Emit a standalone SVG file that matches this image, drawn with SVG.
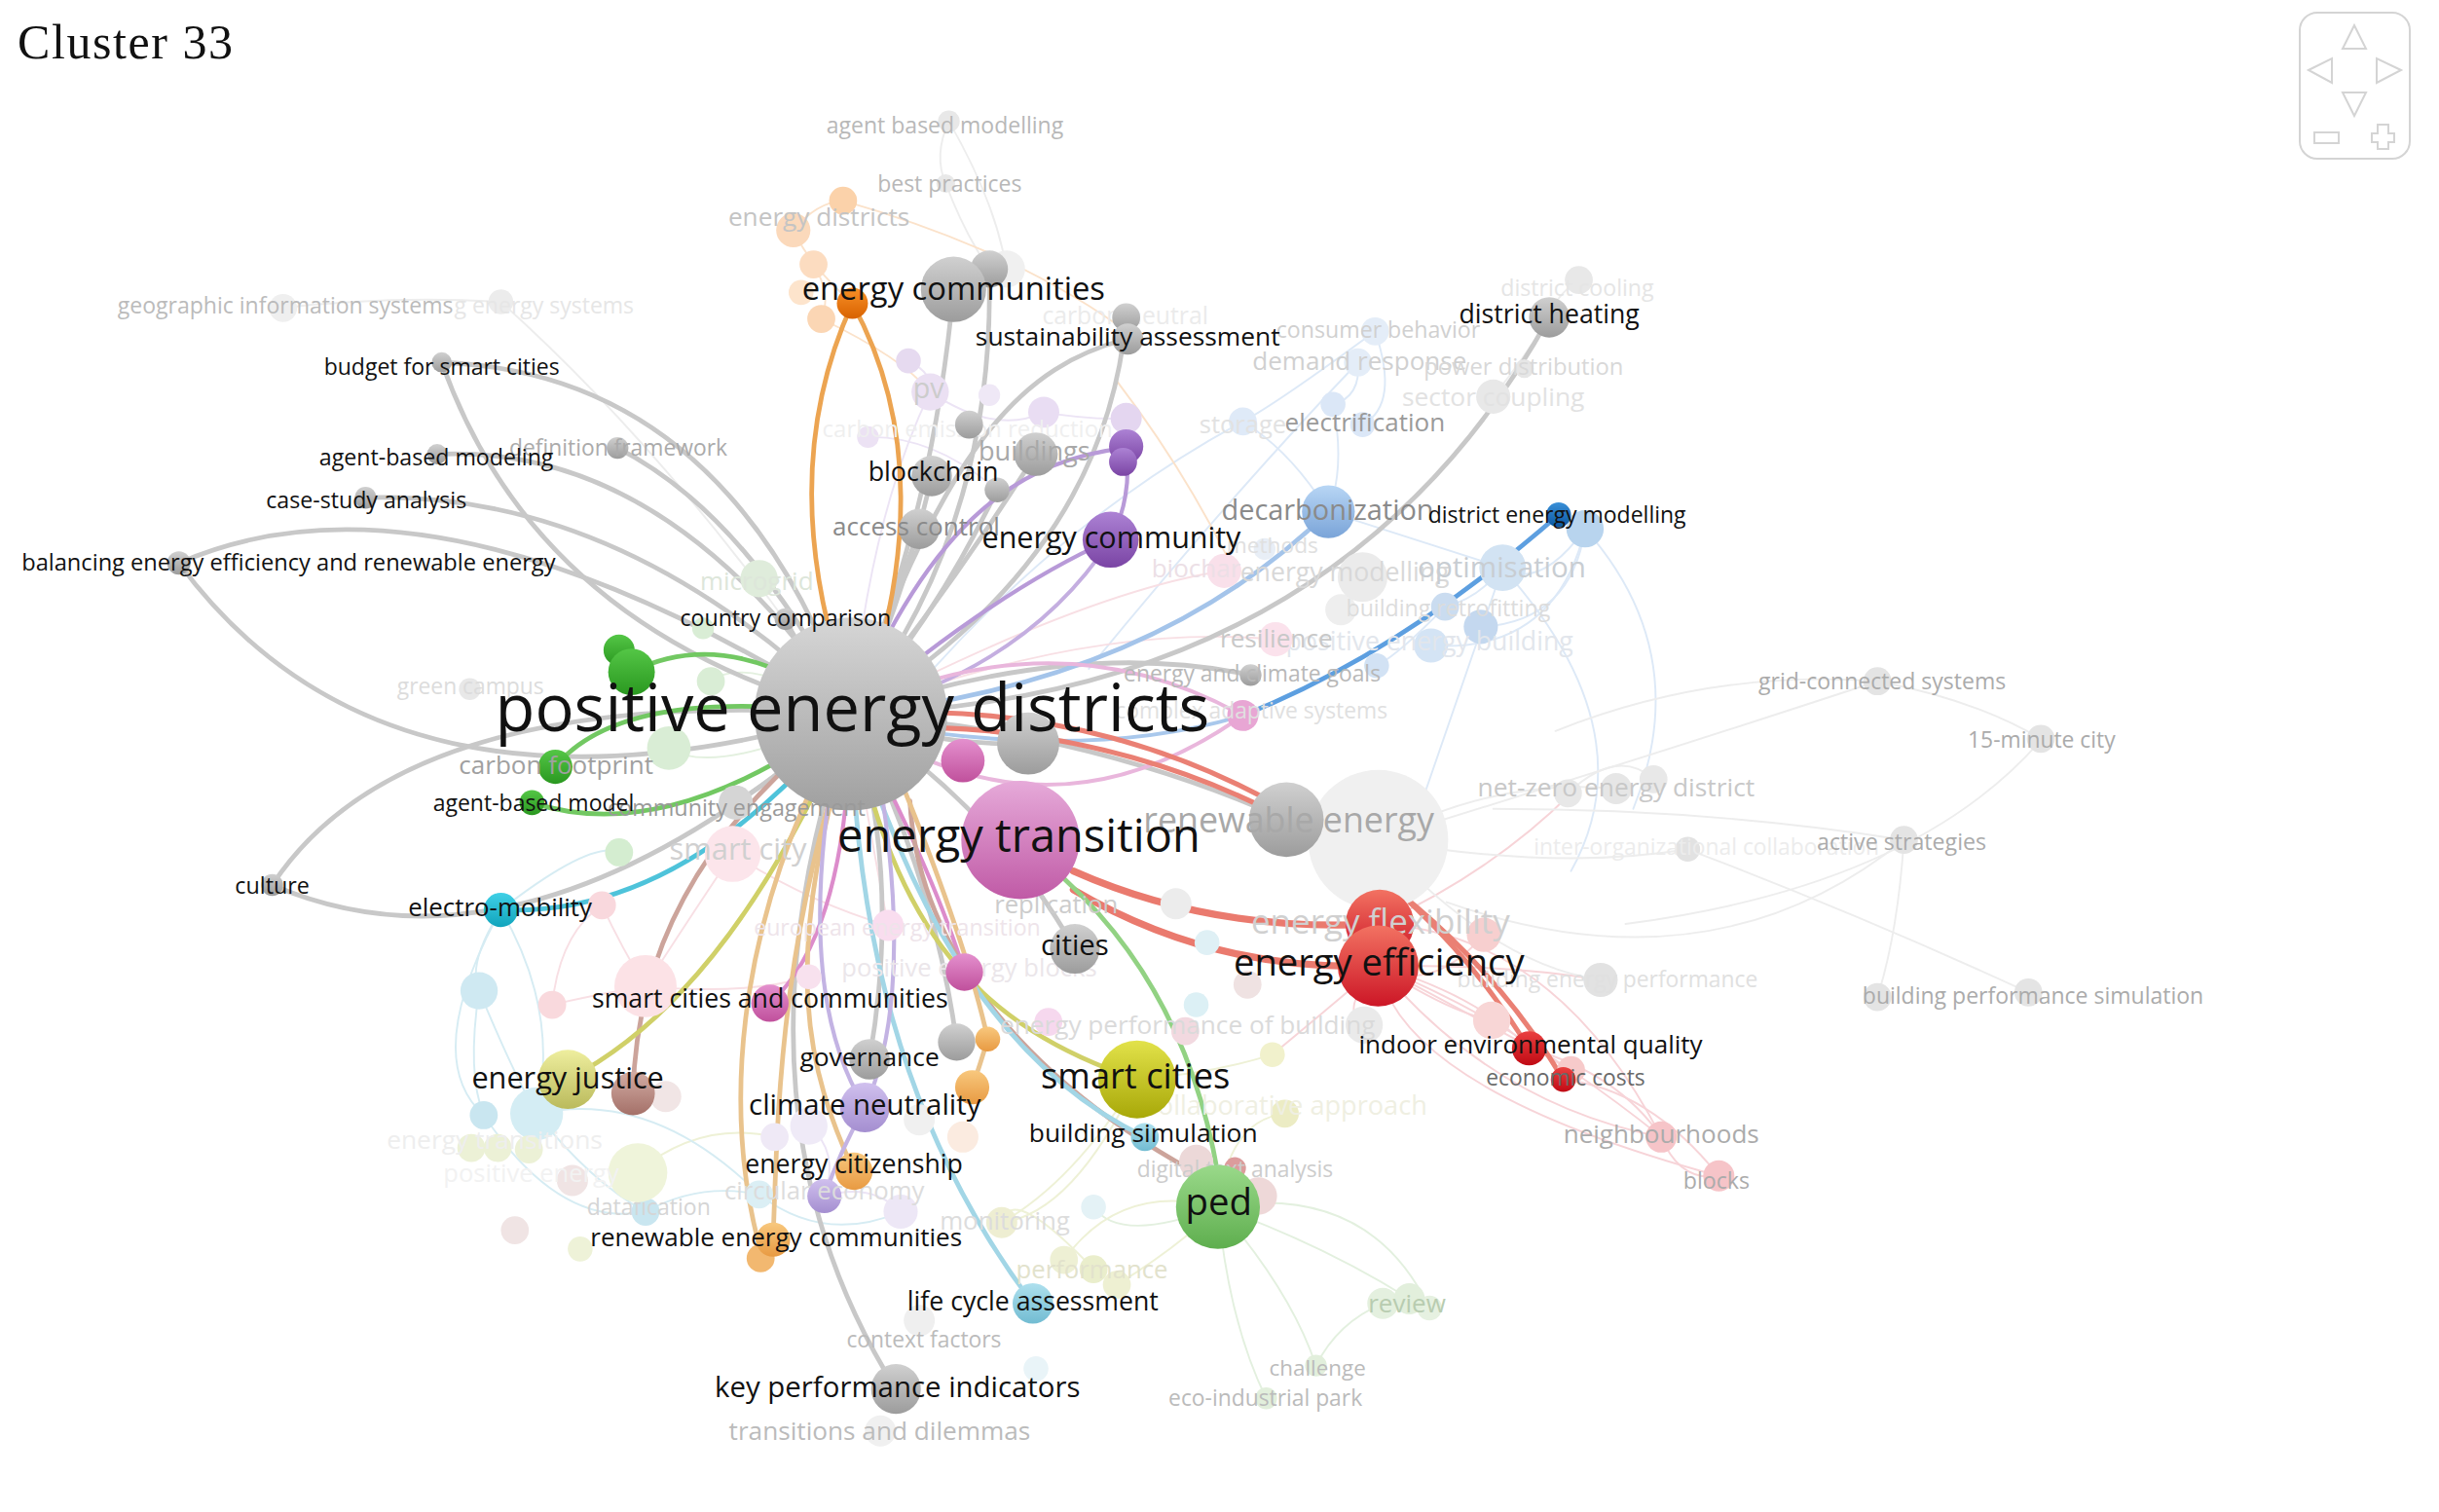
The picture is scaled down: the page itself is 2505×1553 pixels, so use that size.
<svg xmlns="http://www.w3.org/2000/svg" width="2505" height="1553" viewBox="0 0 2505 1553">
<style>
text{font-family:"Open Sans","Liberation Sans",sans-serif}
.c{text-anchor:middle}
.st{text-anchor:start}
.en{text-anchor:end}
.k{fill:#111}
.e path{fill:none;stroke-linecap:round}
.g{stroke:#c8c8c8;stroke-width:3}
</style>
<defs>
<linearGradient id="gHub" x1="0" y1="0" x2="0" y2="1"><stop offset="0" stop-color="#d6d6d6"/><stop offset="1" stop-color="#a0a0a0"/></linearGradient>
<linearGradient id="gGrey" x1="0" y1="0" x2="0" y2="1"><stop offset="0" stop-color="#d0d0d0"/><stop offset="1" stop-color="#9c9c9c"/></linearGradient>
<linearGradient id="gPink" x1="0" y1="0" x2="0" y2="1"><stop offset="0" stop-color="#e6aad9"/><stop offset="1" stop-color="#c05aa6"/></linearGradient>
<linearGradient id="gMag" x1="0" y1="0" x2="0" y2="1"><stop offset="0" stop-color="#e490ce"/><stop offset="1" stop-color="#c0509c"/></linearGradient>
<linearGradient id="gRed" x1="0" y1="0" x2="0" y2="1"><stop offset="0" stop-color="#f27262"/><stop offset="1" stop-color="#cc1626"/></linearGradient>
<linearGradient id="gRed2" x1="0" y1="0" x2="0" y2="1"><stop offset="0" stop-color="#ea4040"/><stop offset="1" stop-color="#c00a14"/></linearGradient>
<linearGradient id="gOlive" x1="0" y1="0" x2="0" y2="1"><stop offset="0" stop-color="#e2e24a"/><stop offset="1" stop-color="#a8a808"/></linearGradient>
<linearGradient id="gGreen" x1="0" y1="0" x2="0" y2="1"><stop offset="0" stop-color="#9ad98a"/><stop offset="1" stop-color="#5eae4e"/></linearGradient>
<linearGradient id="gGreenD" x1="0" y1="0" x2="0" y2="1"><stop offset="0" stop-color="#54c646"/><stop offset="1" stop-color="#2a9820"/></linearGradient>
<linearGradient id="gBlueL" x1="0" y1="0" x2="0" y2="1"><stop offset="0" stop-color="#b8d6f5"/><stop offset="1" stop-color="#7aa4d8"/></linearGradient>
<linearGradient id="gBlueD" x1="0" y1="0" x2="0" y2="1"><stop offset="0" stop-color="#3a90d8"/><stop offset="1" stop-color="#0a56a0"/></linearGradient>
<linearGradient id="gPurple" x1="0" y1="0" x2="0" y2="1"><stop offset="0" stop-color="#ac82d4"/><stop offset="1" stop-color="#7a44a4"/></linearGradient>
<linearGradient id="gOrange" x1="0" y1="0" x2="0" y2="1"><stop offset="0" stop-color="#f89028"/><stop offset="1" stop-color="#d86200"/></linearGradient>
<linearGradient id="gOrangeL" x1="0" y1="0" x2="0" y2="1"><stop offset="0" stop-color="#f8c87e"/><stop offset="1" stop-color="#e89a42"/></linearGradient>
<linearGradient id="gCyan" x1="0" y1="0" x2="0" y2="1"><stop offset="0" stop-color="#40d0e6"/><stop offset="1" stop-color="#10a4bc"/></linearGradient>
<linearGradient id="gLBlue" x1="0" y1="0" x2="0" y2="1"><stop offset="0" stop-color="#aee0ee"/><stop offset="1" stop-color="#72bcd2"/></linearGradient>
<linearGradient id="gYellow" x1="0" y1="0" x2="0" y2="1"><stop offset="0" stop-color="#eeee9e"/><stop offset="1" stop-color="#baba5c"/></linearGradient>
<linearGradient id="gBrown" x1="0" y1="0" x2="0" y2="1"><stop offset="0" stop-color="#d2aca4"/><stop offset="1" stop-color="#a47068"/></linearGradient>
<linearGradient id="gLav" x1="0" y1="0" x2="0" y2="1"><stop offset="0" stop-color="#d0c0ee"/><stop offset="1" stop-color="#a48ed0"/></linearGradient>
</defs>
<rect width="2505" height="1553" fill="#ffffff"/>
<text x="18" y="60" style="font-family:'Liberation Serif','DejaVu Serif',serif" font-size="50" textLength="221" fill="#111">Cluster 33</text>
<g id="nav-control" fill="none" stroke="#d4d4d4" stroke-width="2">
<rect x="2362" y="13" width="113" height="150" rx="18"/>
<polygon points="2418,26 2406,50 2430,50"/>
<polygon points="2371,72 2395,60 2395,85"/>
<polygon points="2466,72 2441,60 2441,85"/>
<polygon points="2406,95 2430,95 2418,119"/>
<rect x="2377" y="136" width="25" height="11"/>
<path d="M2442,128 H2453 V137 H2459 V146 H2453 V153 H2442 V146 H2436 V137 H2442 Z"/>
</g>
<g transform="scale(1.59758)">
<g id="connectors" class="e">
<g stroke-width="1.2">
<g stroke="#dde9f7">
<path d="M1019,340 Q990,380 966,365"/><path d="M966,365 Q950,385 929,390"/><path d="M1019,340 Q1000,420 920,415"/><path d="M854,329 Q920,350 966,365"/><path d="M873,233 Q875,255 857,260"/><path d="M884,213 Q900,260 876,273"/><path d="M799,271 Q830,290 854,329"/><path d="M857,260 Q865,300 854,329"/><path d="M1019,340 Q1010,400 952,403"/><path d="M966,365 Q1060,470 1010,560"/><path d="M873,233 Q790,320 700,430"/><path d="M799,271 Q690,330 600,430"/><path d="M929,390 Q900,420 885,428"/><path d="M1019,340 Q1090,420 1050,520"/><path d="M884,213 Q820,260 799,271"/><path d="M966,365 Q930,470 887,594"/>
</g>
<g stroke="#f7d4d8">
<path d="M886,621 Q950,640 983,674"/><path d="M886,621 Q980,660 1068,731"/><path d="M983,674 Q1040,690 1068,731"/><path d="M1068,731 Q1080,760 1105,756"/><path d="M1005,694 Q1060,700 1105,756"/><path d="M886,621 Q960,710 1068,731"/><path d="M887,594 Q960,560 1010,510"/><path d="M954,601 Q920,640 886,621"/><path d="M886,621 Q930,650 959,656"/><path d="M886,621 Q960,660 1010,688"/><path d="M886,621 Q970,620 1029,630"/><path d="M886,621 Q860,650 877,659"/><path d="M886,621 Q840,660 818,678"/><path d="M887,594 Q1000,600 1068,731"/><path d="M886,621 Q900,700 1105,756"/>
</g>
<g stroke="#ededed">
<path d="M1000,470 Q1100,430 1207,438"/><path d="M1207,438 Q1270,450 1312,475"/><path d="M1312,476 Q1230,570 1045,594"/><path d="M960,520 Q1100,520 1224,540"/><path d="M1085,546 Q1200,590 1304,638"/><path d="M1224,540 Q1220,600 1207,641"/><path d="M886,540 Q960,500 1039,507"/><path d="M886,540 Q1000,560 1085,546"/><path d="M886,540 Q960,620 1029,630"/><path d="M930,580 Q1100,640 1224,540"/><path d="M1008,510 Q1040,480 1063,501"/><path d="M886,540 Q1080,480 1207,438"/><path d="M610,78 Q600,100 608,118"/><path d="M608,118 Q620,150 636,173"/><path d="M610,78 Q640,130 647,173"/><path d="M182,198 Q250,190 322,194"/><path d="M322,194 Q440,300 547,459"/><path d="M1015,180 Q1000,190 996,204"/><path d="M960,255 Q980,230 996,204"/>
</g>
<g stroke="#e3f0df">
<path d="M783,776 Q850,800 906,835"/><path d="M783,776 Q830,830 846,878"/><path d="M783,776 Q790,850 814,899"/><path d="M846,878 Q860,850 889,838"/><path d="M783,776 Q880,760 919,841"/><path d="M783,776 Q720,800 703,776"/><path d="M547,459 Q480,420 457,438"/><path d="M547,459 Q500,370 488,372"/><path d="M547,459 Q460,500 430,481"/>
</g>
<g stroke="#eef1d6">
<path d="M644,786 Q690,780 731,694"/><path d="M684,810 Q720,760 783,776"/><path d="M718,826 Q760,800 783,776"/><path d="M818,678 Q780,690 731,694"/><path d="M826,716 Q790,720 783,776"/><path d="M409,754 Q450,720 498,731"/><path d="M731,694 Q690,760 644,786"/><path d="M703,816 Q650,760 644,786"/>
</g>
<g stroke="#d6ecf3">
<path d="M322,585 Q300,620 308,637"/><path d="M308,637 Q300,690 311,717"/><path d="M308,637 Q330,690 345,716"/><path d="M345,716 Q380,760 415,779"/><path d="M415,779 Q450,760 488,768"/><path d="M322,585 Q360,650 345,716"/><path d="M311,717 Q360,790 415,779"/><path d="M488,768 Q530,800 579,779"/><path d="M322,585 Q270,680 311,717"/><path d="M345,716 Q420,700 488,768"/><path d="M322,585 Q380,540 398,548"/>
</g>
<g stroke="#f8dfe4">
<path d="M355,646 Q380,640 415,634"/><path d="M387,582 Q400,610 415,634"/><path d="M415,634 Q450,580 471,549"/><path d="M471,549 Q520,580 571,595"/><path d="M355,646 Q360,600 387,582"/><path d="M415,634 Q480,640 520,628"/><path d="M547,459 Q520,560 520,628"/><path d="M547,459 Q560,540 571,595"/><path d="M547,459 Q700,380 787,367"/><path d="M547,459 Q700,400 820,411"/>
</g>
<g stroke="#fbe2ca">
<path d="M548,195 Q520,170 510,148"/><path d="M510,148 Q525,130 542,129"/><path d="M523,170 Q535,190 528,205"/><path d="M542,129 Q650,160 720,210"/><path d="M718,245 Q760,300 790,360"/><path d="M528,205 Q580,230 598,252"/>
</g>
<g stroke="#ece4f5">
<path d="M598,252 Q640,280 671,265"/><path d="M584,232 Q600,240 598,252"/><path d="M558,281 Q600,280 641,315"/><path d="M671,265 Q700,270 724,269"/><path d="M598,252 Q560,330 547,459"/><path d="M724,269 Q730,280 724,287"/><path d="M579,779 Q560,760 530,769"/><path d="M520,724 Q540,740 530,769"/>
</g>
</g>
<g class="g">
<path d="M284,233 Q345,405 547,459"/><path d="M284,233 Q470,240 547,459"/><path d="M281,292 Q430,285 547,459"/><path d="M235,320 Q400,315 547,459"/><path d="M115,362 Q280,290 547,459"/><path d="M115,362 Q250,545 547,459"/><path d="M175,569 Q260,440 547,459"/><path d="M175,569 Q340,640 547,459"/><path d="M397,288 Q480,330 547,459"/><path d="M613,186 Q600,330 547,459"/><path d="M636,173 Q640,340 547,459"/><path d="M724,218 C660,235 610,280 547,459"/><path d="M724,204 Q710,360 547,459"/><path d="M996,204 Q860,450 547,459"/><path d="M599,306 Q580,390 547,459"/><path d="M591,340 Q570,400 547,459"/><path d="M666,292 Q610,380 547,459"/><path d="M641,315 Q600,400 547,459"/><path d="M661,478 Q600,480 547,459"/><path d="M804,434 Q690,410 547,459"/><path d="M827,527 Q700,470 547,459"/><path d="M691,610 Q640,520 547,459"/><path d="M559,681 Q580,560 547,459"/><path d="M615,670 Q600,560 547,459"/><path d="M576,893 C505,780 485,640 547,459"/><path d="M505,398 Q520,430 547,459"/><path d="M473,516 Q500,500 547,459"/>
</g>
<g stroke-width="3">
<path stroke="#eca451" d="M548,195 Q500,300 540,430"/><path stroke="#eca451" d="M548,195 Q600,290 565,420"/>
<path stroke="#72c862" d="M406,432 Q470,400 547,459"/><path stroke="#72c862" d="M357,493 Q400,440 547,459"/><path stroke="#72c862" d="M342,516 Q430,545 547,459"/>
<path stroke="#4ec3da" d="M322,585 Q440,590 547,459"/>
<path stroke="#b89ad8" stroke-width="2.6" d="M724,288 C660,295 600,330 547,459"/><path stroke="#b89ad8" stroke-width="2.6" d="M714,347 Q640,380 547,459"/><path stroke="#c4aee0" stroke-width="2.4" d="M714,347 Q660,430 547,459"/><path stroke="#b89ad8" stroke-width="2.6" d="M714,347 Q728,320 724,288"/>
<path stroke="#a4c4ea" d="M854,329 Q740,440 547,459"/>
<path stroke="#5d9fe0" d="M1002,331 Q900,420 799,460"/><path stroke="#a9c8ec" stroke-width="2.5" d="M799,460 Q700,490 560,465"/>
<path stroke="#e9b6dc" stroke-width="2.5" d="M590,440 Q700,405 799,460"/><path stroke="#e9b6dc" stroke-width="2.5" d="M600,490 Q700,530 799,460"/>
<path stroke="#dc8ccb" stroke-width="2.6" d="M547,459 Q545,600 495,645"/><path stroke="#dc8ccb" stroke-width="2.6" d="M547,459 Q600,560 620,625"/>
<path stroke="#ea8074" stroke-width="3.2" d="M600,458 C760,462 900,540 983,674"/><path stroke="#ea8074" stroke-width="3.2" d="M605,468 C775,474 925,560 1005,694"/><path stroke="#ea7a6e" stroke-width="4.5" d="M690,560 Q780,600 887,594"/><path stroke="#ea7a6e" stroke-width="4.5" d="M690,572 Q780,625 886,621"/>
<path stroke="#92d283" d="M660,545 Q760,620 783,755"/>
<path stroke="#cca49b" d="M585,515 C590,610 660,700 790,765"/><path stroke="#cca49b" d="M407,703 Q410,560 547,459"/>
<path stroke="#d0d068" d="M365,694 Q470,640 547,459"/><path stroke="#d0d068" d="M547,459 C575,600 630,660 731,694"/>
<path stroke="#a2d6e6" d="M547,459 C550,620 590,740 664,838"/><path stroke="#a2d6e6" d="M547,459 C590,600 650,690 736,731"/>
<path stroke="#e9c38d" d="M540,470 C470,600 465,720 490,808"/><path stroke="#e9c38d" d="M547,470 C500,610 500,720 497,797"/><path stroke="#e9c38d" d="M547,470 C500,620 520,690 549,753"/><path stroke="#e9c38d" d="M570,480 Q620,600 635,668"/><path stroke="#e9c38d" d="M635,668 Q630,685 625,699"/>
<path stroke="#c3b3e3" stroke-width="2.6" d="M540,470 C515,600 530,670 556,712"/><path stroke="#c3b3e3" stroke-width="2.6" d="M560,470 C585,600 575,670 556,712"/><path stroke="#c3b3e3" stroke-width="2.6" d="M556,712 Q540,740 530,769"/>
</g>
</g>
<g id="nodes">
<g id="n-renewable-energy-halo"><circle cx="886" cy="540" r="45" fill="#f0f0f0"/></g>
<g id="n-agent-based-modelling"><circle cx="610" cy="78" r="7" fill="#e8e8e8"/><text class="c" x="607.5" y="86" font-size="14.4" fill="#b8b8b8">agent based modelling</text></g>
<g id="n-best-practices"><circle cx="608" cy="118" r="6" fill="#e8e8e8"/><text class="c" x="610.5" y="123" font-size="14.4" fill="#b8b8b8">best practices</text></g>
<g id="n-ed-1"><circle cx="542" cy="129" r="9" fill="#fbd2aa"/></g>
<g id="n-ed-2"><circle cx="523" cy="170" r="9" fill="#fcdcc0"/></g>
<g id="n-ed-3"><circle cx="528" cy="205" r="9" fill="#fbd6b4"/></g>
<g id="n-ed-4"><circle cx="515" cy="188" r="8" fill="#fde4cc"/></g>
<g id="n-energy-districts"><circle cx="510" cy="148" r="11" fill="#fbd9bb"/><text class="c" x="526.5" y="145" font-size="16.4" fill="#c4c4c4">energy districts</text></g>
<g id="n-geographic-information-systems"><circle cx="182" cy="198" r="9" fill="#efefef"/><text class="c" x="183.5" y="201.5" font-size="14.4" fill="#bbbbbb">geographic information systems</text></g>
<g id="n-energy-systems"><circle cx="322" cy="194" r="8" fill="#ececec"/><text class="st" x="292" y="201.5" font-size="14.4" fill="#e6e6e6">g energy systems</text></g>
<g id="n-pv-1"><circle cx="584" cy="232" r="8" fill="#e6daf0"/></g>
<g id="n-pv-2"><circle cx="636" cy="254" r="7" fill="#efe8f6"/></g>
<g id="n-pv-3"><circle cx="671" cy="265" r="10" fill="#e9ddf3"/></g>
<g id="n-pv-4"><circle cx="724" cy="269" r="10" fill="#e4d6f0"/></g>
<g id="n-pv"><circle cx="598" cy="252" r="12" fill="#ebe0f3"/><text class="c" x="597" y="256" font-size="18" fill="#cccccc">pv</text></g>
<g id="n-carbon-emission-reduction"><circle cx="558" cy="281" r="7" fill="#ece2f4"/><text class="c" x="622" y="281" font-size="15" fill="#efefef">carbon emission reduction</text></g>
<g id="n-carbon-neutral"><circle cx="647" cy="173" r="12" fill="#f0f0f0"/><text class="st" x="670" y="208.5" font-size="15.5" fill="#ebebeb">carbon neutral</text></g>
<g id="n-storage"><circle cx="799" cy="271" r="9" fill="#dfeaf8"/><text class="c" x="799" y="278.5" font-size="16" fill="#e2e2e2">storage</text></g>
<g id="n-consumer-behavior"><circle cx="884" cy="213" r="9" fill="#e4edf8"/><text class="c" x="886" y="217" font-size="14.5" fill="#d0d0d0">consumer behavior</text></g>
<g id="n-demand-response"><circle cx="873" cy="233" r="9" fill="#e4edf8"/><text class="c" x="874" y="238" font-size="16.3" fill="#d0d0d0">demand response</text></g>
<g id="n-power-distribution"><circle cx="980" cy="237" r="6" fill="#e6e6e6"/><text class="c" x="979.5" y="241" font-size="14.9" fill="#d8d8d8">power distribution</text></g>
<g id="n-sector-coupling"><circle cx="960" cy="255" r="11" fill="#e8e8e8"/><text class="c" x="960" y="261" font-size="16.5" fill="#e2e2e2">sector coupling</text></g>
<g id="n-district-cooling"><circle cx="1015" cy="180" r="9" fill="#e8e8e8"/><text class="c" x="1014" y="190" font-size="14.5" fill="#e5e5e5">district cooling</text></g>
<g id="n-elec-1"><circle cx="857" cy="260" r="8" fill="#dbe7f7"/></g>
<g id="n-electrification"><circle cx="876" cy="273" r="8" fill="#dbe7f7"/><text class="c" x="877.5" y="277.5" font-size="16.3" fill="#9a9a9a">electrification</text></g>
<g id="n-methods"><circle cx="813" cy="353" r="7" fill="#e8eef6"/><text class="c" x="818" y="355.5" font-size="14.2" fill="#e0e0e0">methods</text></g>
<g id="n-biochar"><circle cx="787" cy="367" r="11" fill="#f9e0ea"/><text class="c" x="769" y="371" font-size="16.3" fill="#ecdfe6">biochar</text></g>
<g id="n-em-2"><circle cx="862" cy="392" r="10" fill="#eeeeee"/></g>
<g id="n-energy-modelling"><circle cx="876" cy="371" r="16" fill="#ebebeb"/><text class="c" x="864.5" y="374" font-size="16.7" fill="#d8d8d8">energy modelling</text></g>
<g id="n-optimisation"><circle cx="966" cy="365" r="15" fill="#d2e3f3"/><text class="c" x="965.5" y="371" font-size="18.5" fill="#c8cdd2">optimisation</text></g>
<g id="n-br-2"><circle cx="952" cy="403" r="11" fill="#c4d8ef"/></g>
<g id="n-building-retrofitting"><circle cx="929" cy="390" r="9" fill="#cadcf0"/><text class="c" x="931" y="396" font-size="14.5" fill="#dcdcdc">building retrofitting</text></g>
<g id="n-peb-2"><circle cx="885" cy="428" r="8" fill="#d2e2f4"/></g>
<g id="n-positive-energy-building"><circle cx="920" cy="415" r="11" fill="#d4e4f5"/><text class="c" x="919" y="418" font-size="16.7" fill="#e2e6ec">positive energy building</text></g>
<g id="n-resilience"><circle cx="820" cy="411" r="11" fill="#fbe2ec"/><text class="c" x="820.5" y="416" font-size="16.4" fill="#c8c8c8">resilience</text></g>
<g id="n-dem-halo"><circle cx="1019" cy="340" r="12" fill="#b8d4ee"/></g>
<g id="n-nz-1"><circle cx="1008" cy="510" r="9" fill="#e8e8e8"/></g>
<g id="n-nz-3"><circle cx="1063" cy="501" r="9" fill="#e8e8e8"/></g>
<g id="n-net-zero-energy-district"><circle cx="1039" cy="507" r="10" fill="#e6e6e6"/><text class="c" x="1039" y="512" font-size="16.5" fill="#c8c8c8">net-zero energy district</text></g>
<g id="n-inter-organizational-collaboration"><circle cx="1085" cy="546" r="8" fill="#e2e2e2"/><text class="st" x="986" y="549.6" font-size="14.3" fill="#ececec">inter-organizational collaboration</text></g>
<g id="n-active-strategies"><circle cx="1224" cy="540" r="9" fill="#e4e4e4"/><text class="c" x="1222.5" y="546.6" font-size="14.5" fill="#ababab">active strategies</text></g>
<g id="n-grid-connected-systems"><circle cx="1207" cy="438" r="9" fill="#e4e4e4"/><text class="c" x="1210" y="443" font-size="14.4" fill="#ababab">grid-connected systems</text></g>
<g id="n-15-minute-city"><circle cx="1312" cy="475" r="9" fill="#e4e4e4"/><text class="c" x="1312.5" y="481" font-size="14.3" fill="#ababab">15-minute city</text></g>
<g id="n-bps-2"><circle cx="1304" cy="638" r="9" fill="#e4e4e4"/></g>
<g id="n-building-performance-simulation"><circle cx="1207" cy="641" r="9" fill="#e4e4e4"/><text class="c" x="1307" y="645.5" font-size="14.4" fill="#ababab">building performance simulation</text></g>
<g id="n-building-energy-performance"><circle cx="1029" cy="630" r="11" fill="#e2e2e2"/><text class="en" x="1130" y="635" font-size="14.3" fill="#e0e0e0">building energy performance</text></g>
<g id="n-pk-1"><circle cx="954" cy="601" r="11" fill="#f7cfcf"/></g>
<g id="n-pk-2"><circle cx="959" cy="656" r="12" fill="#f8d6d6"/></g>
<g id="n-gy-1"><circle cx="877" cy="659" r="12" fill="#eaeaea"/></g>
<g id="n-yl-1"><circle cx="818" cy="678" r="8" fill="#f1f1cc"/></g>
<g id="n-collaborative-approach"><circle cx="826" cy="716" r="9" fill="#ececc4"/><text class="st" x="736" y="717" font-size="17" fill="#efefe2">collaborative approach</text></g>
<g id="n-ep-2"><circle cx="762" cy="663" r="9" fill="#f2d9e0"/></g>
<g id="n-energy-performance-of-building"><circle cx="674" cy="657" r="9" fill="#f6d8ee"/><text class="c" x="763.5" y="665" font-size="16.4" fill="#dadada">energy performance of building</text></g>
<g id="n-lb-1"><circle cx="703" cy="776" r="8" fill="#e4f2f6"/></g>
<g id="n-lb-2"><circle cx="666" cy="880" r="8" fill="#e9f4f8"/></g>
<g id="n-monitoring"><circle cx="644" cy="786" r="10" fill="#eeeed2"/><text class="c" x="646" y="790.5" font-size="16.2" fill="#dcdcdc">monitoring</text></g>
<g id="n-pf-1"><circle cx="684" cy="810" r="9" fill="#eef0d4"/></g>
<g id="n-pf-3"><circle cx="718" cy="826" r="9" fill="#eef0d2"/></g>
<g id="n-performance"><circle cx="703" cy="816" r="9" fill="#eaeecc"/><text class="c" x="702" y="822" font-size="16.1" fill="#e2e2cc">performance</text></g>
<g id="n-dt-1"><circle cx="769" cy="747" r="11" fill="#ecd8d8"/></g>
<g id="n-dt-3"><circle cx="809" cy="769" r="12" fill="#eed8d8"/></g>
<g id="n-digital-text-analysis"><circle cx="794" cy="751" r="7" fill="#dc9c9c"/><text class="c" x="794" y="757" font-size="14.3" fill="#cccccc">digital text analysis</text></g>
<g id="n-rv-1"><circle cx="889" cy="838" r="10" fill="#e4f0df"/></g>
<g id="n-rv-3"><circle cx="919" cy="841" r="8" fill="#e6f1e1"/></g>
<g id="n-review"><circle cx="906" cy="835" r="10" fill="#e2efdc"/><text class="c" x="904.5" y="844" font-size="16.3" fill="#b8ccb0">review</text></g>
<g id="n-challenge"><circle cx="846" cy="878" r="7" fill="#e2efdc"/><text class="c" x="847" y="884.4" font-size="14" fill="#bbbbbb">challenge</text></g>
<g id="n-eco-industrial-park"><circle cx="814" cy="899" r="7" fill="#e2efdc"/><text class="c" x="813.5" y="904" font-size="14.3" fill="#bbbbbb">eco-industrial park</text></g>
<g id="n-context-factors"><circle cx="591" cy="849" r="10" fill="#efefef"/><text class="c" x="594" y="866.5" font-size="14.3" fill="#bbbbbb">context factors</text></g>
<g id="n-transitions-and-dilemmas"><circle cx="566" cy="920" r="10" fill="#f0f0f0"/><text class="c" x="565.5" y="926" font-size="16.4" fill="#bbbbbb">transitions and dilemmas</text></g>
<g id="n-lv-1"><circle cx="579" cy="779" r="11" fill="#ede7f6"/></g>
<g id="n-lv-2"><circle cx="498" cy="731" r="9" fill="#efe9f6"/></g>
<g id="n-lv-3"><circle cx="520" cy="724" r="12" fill="#efeaf7"/></g>
<g id="n-pc-1"><circle cx="619" cy="731" r="10" fill="#fbebe0"/></g>
<g id="n-gy-2"><circle cx="591" cy="720" r="10" fill="#f0f0f0"/></g>
<g id="n-bl-1"><circle cx="308" cy="637" r="12" fill="#cfe9f2"/></g>
<g id="n-bl-2"><circle cx="345" cy="716" r="17" fill="#d4edf4"/></g>
<g id="n-bl-3"><circle cx="311" cy="717" r="9" fill="#c9e6f0"/></g>
<g id="n-bl-5"><circle cx="488" cy="768" r="9" fill="#dbeff5"/></g>
<g id="n-datafication"><circle cx="415" cy="779" r="9" fill="#c9e6f0"/><text class="c" x="417" y="781" font-size="14.4" fill="#d5d5d5">datafication</text></g>
<g id="n-pl-1"><circle cx="355" cy="646" r="9" fill="#f9d9dd"/></g>
<g id="n-pl-2"><circle cx="415" cy="634" r="20" fill="#fce2e6"/></g>
<g id="n-pl-3"><circle cx="387" cy="582" r="9" fill="#f9d8dd"/></g>
<g id="n-smart-city"><circle cx="471" cy="549" r="18" fill="#fce5eb"/><text class="c" x="474.5" y="553" font-size="19.3" fill="#d0d0d0">smart city</text></g>
<g id="n-european-energy-transition"><circle cx="571" cy="595" r="10" fill="#f9ddef"/><text class="en" x="669" y="601.7" font-size="14.5" fill="#eee4ea">european energy transition</text></g>
<g id="n-positive-energy-blocks"><circle cx="520" cy="628" r="8" fill="#f8e1ee"/><text class="st" x="541" y="628" font-size="16" fill="#ebe6ea">positive energy blocks</text></g>
<g id="n-gf-1"><circle cx="398" cy="548" r="9" fill="#d4edd0"/></g>
<g id="n-gf-2"><circle cx="430" cy="481" r="14" fill="#d9edd5"/></g>
<g id="n-gf-3"><circle cx="457" cy="438" r="9" fill="#d9edd5"/></g>
<g id="n-gf-4"><circle cx="452" cy="404" r="7" fill="#d9edd5"/></g>
<g id="n-microgrid"><circle cx="488" cy="372" r="12" fill="#dfecdb"/><text class="st" x="450" y="379.6" font-size="16.3" fill="#dde6da">microgrid</text></g>
<g id="n-yg-1"><circle cx="410" cy="754" r="19" fill="#eff4da"/></g>
<g id="n-yg-2"><circle cx="303" cy="738" r="9" fill="#ecf1d6"/></g>
<g id="n-yg-4"><circle cx="340" cy="739" r="9" fill="#ecf1d6"/></g>
<g id="n-energy-transitions"><circle cx="320" cy="738" r="9" fill="#ecf1d6"/><text class="c" x="318" y="738.6" font-size="16.5" fill="#eeeeee">energy transitions</text></g>
<g id="n-positive-energy"><circle cx="368" cy="759" r="10" fill="#f0e4e4"/><text class="st" x="285" y="760" font-size="16" fill="#f2f2f2">positive energy</text></g>
<g id="n-yg-5"><circle cx="331" cy="791" r="9" fill="#f0e4e4"/></g>
<g id="n-yg-6"><circle cx="373" cy="803" r="8" fill="#eef2d8"/></g>
<g id="n-yg-7"><circle cx="428" cy="705" r="10" fill="#f1e5e5"/></g>
<g id="n-green-campus"><circle cx="302" cy="443" r="7" fill="#e8e8e8"/><text class="c" x="302.5" y="446" font-size="14.3" fill="#dcdcdc">green campus</text></g>
<g id="n-replication-node"><circle cx="756" cy="581" r="10" fill="#ececec"/></g>
<g id="n-lb-3"><circle cx="776" cy="606" r="8" fill="#dff0f5"/></g>
<g id="n-mv-1"><circle cx="802" cy="633" r="9" fill="#efe2e2"/></g>
<g id="n-lb-4"><circle cx="769" cy="646" r="8" fill="#dcf0f5"/></g>
<g id="n-replication"><text class="c" x="679" y="587" font-size="16.1" fill="#cccccc">replication</text></g>
<g id="n-ec-halo"><circle cx="1010" cy="688" r="9" fill="#f7caca"/></g>
<g id="n-neighbourhoods"><circle cx="1068" cy="731" r="10" fill="#f6c4c8"/><text class="c" x="1068" y="735" font-size="16.3" fill="#ababab">neighbourhoods</text></g>
<g id="n-blocks"><circle cx="1105" cy="756" r="10" fill="#f6c4c8"/><text class="c" x="1103.5" y="764" font-size="14.5" fill="#ababab">blocks</text></g>
<g id="n-energy-and-climate-goals"><circle cx="804" cy="434" r="7" fill="url(#gGrey)"/><text class="c" x="805" y="438" font-size="14.3" fill="#b8b8b8">energy and climate goals</text></g>
<g id="n-complex-adaptive-systems"><circle cx="799" cy="460" r="10" fill="#e8a6d4"/><text class="en" x="892" y="462" font-size="14.3" fill="#e0e0e0">complex adaptive systems</text></g>
<g id="n-definition-framework"><circle cx="397" cy="288" r="7" fill="url(#gGrey)"/><text class="c" x="397.5" y="293" font-size="14.3" fill="#ababab">definition framework</text></g>
<g id="n-g-623"><circle cx="623" cy="273" r="9" fill="url(#gGrey)"/></g>
<g id="n-g-641"><circle cx="641" cy="315" r="8" fill="url(#gGrey)"/></g>
<g id="n-g-636"><circle cx="636" cy="173" r="12" fill="url(#gGrey)"/></g>
<g id="n-purple-1"><circle cx="724" cy="287" r="11" fill="url(#gPurple)"/></g>
<g id="n-purple-2"><circle cx="722" cy="297" r="9" fill="url(#gPurple)"/></g>
<g id="n-buildings"><circle cx="666" cy="292" r="14" fill="url(#gGrey)"/><text class="c" x="665" y="296" font-size="17" fill="#a8a8a8">buildings</text></g>
<g id="n-access-control"><circle cx="591" cy="340" r="13" fill="url(#gGrey)"/><text class="c" x="589" y="344" font-size="16.3" fill="#8a8a8a">access control</text></g>
<g id="n-renewable-energy"><circle cx="827" cy="527" r="24" fill="url(#gGrey)"/><text class="c" x="828.5" y="535" font-size="22.4" fill="#a8a8a8">renewable energy</text></g>
<g id="n-energy-flexibility"><circle cx="887" cy="594" r="22" fill="url(#gRed)"/><text class="c" x="887.5" y="600" font-size="21.9" fill="#d0d0d0">energy flexibility</text></g>
<g id="n-carbon-footprint"><circle cx="357" cy="493" r="11" fill="url(#gGreenD)"/><text class="c" x="357.5" y="497.5" font-size="16.3" fill="#a0a0a0">carbon footprint</text></g>
<g id="n-green-2"><circle cx="398" cy="418" r="10" fill="url(#gGreenD)"/></g>
<g id="n-green-1"><circle cx="406" cy="432" r="15" fill="url(#gGreenD)"/></g>
<g id="n-grey-661"><circle cx="661" cy="478" r="20" fill="url(#gGrey)"/></g>
<g id="n-pink-619"><circle cx="619" cy="489" r="14" fill="url(#gMag)"/></g>
<g id="n-positive-energy-districts"><circle cx="547" cy="459" r="62" fill="url(#gHub)"/><text class="c k" x="548" y="470" font-size="41.8">positive energy districts</text></g>
<g id="n-community-engagement"><circle cx="473" cy="516" r="11" fill="#d5d5d5"/><text class="c" x="473.5" y="524.5" font-size="14.6" fill="#9a9a9a">community engagement</text></g>
<g id="n-country-comparison"><circle cx="505" cy="398" r="7" fill="url(#gGrey)"/><text class="c k" x="505" y="402.5" font-size="14.5">country comparison</text></g>
<g id="n-energy-communities-orange"><circle cx="548" cy="195" r="10" fill="url(#gOrange)"/></g>
<g id="n-energy-communities"><circle cx="613" cy="186" r="21" fill="url(#gGrey)"/><text class="c k" x="613" y="193" font-size="20.5">energy communities</text></g>
<g id="n-sustainability-2"><circle cx="724" cy="204" r="9" fill="url(#gGrey)"/></g>
<g id="n-sustainability-assessment"><circle cx="725" cy="218" r="10" fill="url(#gGrey)"/><text class="c k" x="725" y="222" font-size="16.5">sustainability assessment</text></g>
<g id="n-district-heating"><circle cx="996" cy="204" r="13" fill="url(#gGrey)"/><text class="c k" x="996" y="208" font-size="16.7">district heating</text></g>
<g id="n-budget-for-smart-cities"><circle cx="284" cy="233" r="6.5" fill="url(#gGrey)"/><text class="c k" x="284" y="241" font-size="14.4">budget for smart cities</text></g>
<g id="n-agent-based-modeling"><circle cx="281" cy="292" r="6.5" fill="url(#gGrey)"/><text class="c k" x="280.5" y="299.5" font-size="14.5">agent-based modeling</text></g>
<g id="n-case-study-analysis"><circle cx="235" cy="320" r="7" fill="url(#gGrey)"/><text class="c k" x="235.5" y="327" font-size="14.5">case-study analysis</text></g>
<g id="n-balancing"><circle cx="115" cy="362" r="7.5" fill="url(#gGrey)"/><text class="c k" x="185.5" y="367" font-size="14.8">balancing energy efficiency and renewable energy</text></g>
<g id="n-blockchain"><circle cx="599" cy="306" r="13" fill="url(#gGrey)"/><text class="c k" x="600" y="309" font-size="16.8">blockchain</text></g>
<g id="n-energy-community"><circle cx="714" cy="347" r="18" fill="url(#gPurple)"/><text class="c k" x="714.5" y="352.5" font-size="19.1">energy community</text></g>
<g id="n-decarbonization"><circle cx="854" cy="329" r="17" fill="url(#gBlueL)"/><text class="c" x="853.5" y="334" font-size="18.1" fill="#8a8a8a">decarbonization</text></g>
<g id="n-district-energy-modelling"><circle cx="1002" cy="331" r="8" fill="url(#gBlueD)"/><text class="c k" x="1001" y="336" font-size="14.4">district energy modelling</text></g>
<g id="n-agent-based-model"><circle cx="342" cy="516" r="8" fill="url(#gGreenD)"/><text class="c k" x="343" y="521.5" font-size="14.4">agent-based model</text></g>
<g id="n-culture"><circle cx="175" cy="569" r="7" fill="url(#gGrey)"/><text class="c k" x="175" y="574.6" font-size="14.6">culture</text></g>
<g id="n-electro-mobility"><circle cx="322" cy="585" r="11" fill="url(#gCyan)"/><text class="c k" x="321.5" y="589" font-size="16.2">electro-mobility</text></g>
<g id="n-energy-transition"><circle cx="656" cy="540" r="38" fill="url(#gPink)"/><text class="c k" x="655" y="547.5" font-size="29.4">energy transition</text></g>
<g id="n-magenta-620"><circle cx="620" cy="625" r="12" fill="url(#gMag)"/></g>
<g id="n-cities"><circle cx="691" cy="610" r="16" fill="url(#gGrey)"/><text class="c k" x="691" y="614" font-size="18.4">cities</text></g>
<g id="n-energy-efficiency"><circle cx="886" cy="621" r="26" fill="url(#gRed)"/><text class="c k" x="886.5" y="627" font-size="23.9">energy efficiency</text></g>
<g id="n-indoor-environmental-quality"><circle cx="983" cy="674" r="11" fill="url(#gRed2)"/><text class="c k" x="984" y="677" font-size="16.3">indoor environmental quality</text></g>
<g id="n-economic-costs"><circle cx="1005" cy="694" r="8" fill="url(#gRed2)"/><text class="c" x="1006.5" y="698" font-size="14.3" fill="#6a6a6a">economic costs</text></g>
<g id="n-smart-cities-and-communities"><circle cx="495" cy="645" r="12" fill="url(#gMag)"/><text class="c k" x="495" y="648" font-size="16.7">smart cities and communities</text></g>
<g id="n-grey-615"><circle cx="615" cy="670" r="12" fill="url(#gGrey)"/></g>
<g id="n-orange-635"><circle cx="635" cy="668" r="8" fill="url(#gOrangeL)"/></g>
<g id="n-orange-625"><circle cx="625" cy="699" r="11" fill="url(#gOrangeL)"/></g>
<g id="n-governance"><circle cx="559" cy="681" r="13" fill="url(#gGrey)"/><text class="c k" x="559" y="685.5" font-size="16.5">governance</text></g>
<g id="n-brown-407"><circle cx="407" cy="703" r="14" fill="url(#gBrown)"/></g>
<g id="n-energy-justice"><circle cx="365" cy="694" r="19" fill="url(#gYellow)"/><text class="c k" x="365" y="700" font-size="19.2">energy justice</text></g>
<g id="n-smart-cities"><circle cx="731" cy="694" r="25" fill="url(#gOlive)"/><text class="c k" x="730" y="700" font-size="22.7">smart cities</text></g>
<g id="n-circular-economy"><circle cx="530" cy="769" r="11" fill="url(#gLav)"/><text class="c" x="530" y="771" font-size="16.1" fill="#dcdcdc">circular economy</text></g>
<g id="n-climate-neutrality"><circle cx="556" cy="712" r="16" fill="url(#gLav)"/><text class="c k" x="556" y="717" font-size="18.4">climate neutrality</text></g>
<g id="n-building-simulation"><circle cx="736" cy="731" r="9" fill="url(#gLBlue)"/><text class="c k" x="735" y="734" font-size="16.5">building simulation</text></g>
<g id="n-energy-citizenship"><circle cx="549" cy="753" r="12" fill="url(#gOrangeL)"/><text class="c k" x="549" y="754" font-size="16.7">energy citizenship</text></g>
<g id="n-rec-2"><circle cx="489" cy="809" r="9" fill="#f2b870"/></g>
<g id="n-renewable-energy-communities"><circle cx="497" cy="797" r="11" fill="url(#gOrangeL)"/><text class="c k" x="499" y="801" font-size="16.3">renewable energy communities</text></g>
<g id="n-ped"><circle cx="783" cy="776" r="27" fill="url(#gGreen)"/><text class="c k" x="783.5" y="781" font-size="24">ped</text></g>
<g id="n-life-cycle-assessment"><circle cx="664" cy="838" r="13" fill="url(#gLBlue)"/><text class="c k" x="664" y="842.5" font-size="16.7">life cycle assessment</text></g>
<g id="n-key-performance-indicators"><circle cx="576" cy="893" r="16" fill="url(#gGrey)"/><text class="c k" x="577" y="898" font-size="18.4">key performance indicators</text></g>
</g>
</g>
</svg>
